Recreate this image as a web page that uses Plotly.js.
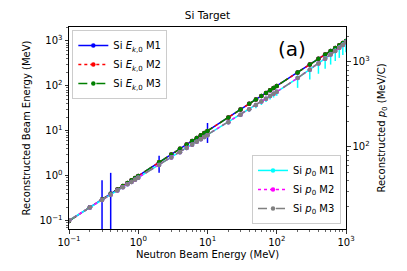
<!DOCTYPE html>
<html>
<head>
<meta charset="utf-8">
<script src="https://cdn.plot.ly/plotly-3.0.1.min.js"></script>
<style>html,body{margin:0;padding:0;background:#fff;}#chart{width:407px;height:271px;}</style>
</head>
<body>
<div id="chart"></div>
<script>
// Neutron beam energies (MeV)
var energy = [0.1,0.2,0.3,0.4,0.5,0.6,0.7,0.8,0.9,1,2,3,4,5,6,7,8,9,10,20,30,40,50,60,70,80,90,100,200,300,400,500,600,700,800,900,1000];
// Reconstructed kinetic energy (MeV), left axis
var ekM1 = [0.1,0.2,0.3,0.4,0.5,0.6,0.7,0.8,0.9,1.0,2.0,3.0,4.0,5.0,6.0,7.0,8.0,9.0,10,20,30,40,50,60,70,80,90,100,200,300,400,500,600,700,800,900,1000];
var ekM2 = [0.1,0.2,0.3,0.4,0.5,0.6,0.7,0.8,0.9,1.0,2.0,3.0,4.0,5.0,6.0,7.0,8.0,9.0,10,20,30,40,50,60,70,80,90,100,200,300,400,500,600,700,800,900,1000];
var ekM3 = [0.1,0.2,0.3,0.4,0.5,0.6,0.7,0.8,0.9,1.0,2.0,3.0,4.0,5.0,6.0,7.0,8.0,9.0,10,20,30,40,50,60,70,80,90,100,200,300,400,500,600,700,800,900,1000];
var ekM1ErrUp   = [0,0,0.5,0.77,0,0,0,0,0,0,0.8,0,0,0,0,0,0,0,5,0,0,0,0,0,0,0,0,0,20,30,40,50,60,70,80,90,100];
var ekM1ErrDown = [0,0,0.295,0.395,0,0,0,0,0,0,0.82,0,0,0,0,0,0,0,4.6,0,0,0,0,0,0,0,0,0,20,30,40,50,60,70,80,90,100];
// Reconstructed momentum (MeV/c), right axis
var p0M1 = [13.7,19.4,23.8,27.4,30.7,33.6,36.3,38.8,41.1,43.4,61.3,75.1,86.8,97.1,106.4,114.9,122.9,130.4,137.5,194.9,239.3,277.1,310.6,341.1,369.4,395.9,421.0,444.9,644.9,808.5,954.8,1090.7,1219.6,1343.7,1464.0,1581.5,1696.8];
var p0M2 = [13.7,19.4,23.8,27.4,30.7,33.6,36.3,38.8,41.1,43.4,61.3,75.1,86.8,97.1,106.4,114.9,122.9,130.4,137.5,194.9,239.3,277.1,310.6,341.1,369.4,395.9,421.0,444.9,644.9,808.5,954.8,1090.7,1219.6,1343.7,1464.0,1581.5,1696.8];
var p0M3 = [13.7,19.4,23.8,27.4,30.7,33.6,36.3,38.8,41.1,43.4,61.3,75.1,86.8,97.1,106.4,114.9,122.9,130.4,137.5,194.9,239.3,277.1,310.6,341.1,369.4,395.9,421.0,444.9,644.9,808.5,954.8,1090.7,1219.6,1343.7,1464.0,1581.5,1696.8];
var p0M1ErrUp   = [0,0,0,0,0,0,0,0,0,0,0,0,0,0,0,0,0,0,0,5,6,8,9,10,11,12,13,14,50,60,70,80,90,100,110,120,130];
var p0M1ErrDown = [0,0,0,0,0,0,0,0,0,0,0,0,0,0,0,0,0,0,0,10,15,20,25,30,33,36,40,45,150,190,230,260,290,320,350,380,400];

var xTickVals = [0.1,1,10,100,1000];
var xTickText = ['10<sup>\u22121</sup>','10<sup>0</sup>','10<sup>1</sup>','10<sup>2</sup>','10<sup>3</sup>'];
var yTickVals = [0.1,1,10,100,1000];
var yTickText = ['10<sup>\u22121</sup>','10<sup>0</sup>','10<sup>1</sup>','10<sup>2</sup>','10<sup>3</sup>'];
var y2TickVals = [100,1000];
var y2TickText = ['10<sup>2</sup>','10<sup>3</sup>'];

function minorTicks(lo, hi){
  var out=[];
  for(var d=lo; d<=hi; d++){ for(var k=2;k<=9;k++){ out.push(k*Math.pow(10,d)); } }
  return out;
}

var FONT = 'DejaVu Sans, sans-serif';

function tr(x,y,name,color,dash,yaxis,legend,errUp,errDown){
  var t = {x:x, y:y, name:name, type:'scatter', mode:'lines+markers',
    line:{color:color, width:1.5, dash:dash},
    marker:{color:color, size:4.5, symbol:'circle'},
    yaxis:yaxis, legend:legend};
  if(errUp){
    t.error_y = {type:'data', symmetric:false, array:errUp, arrayminus:errDown,
      color:color, thickness:1.5, width:0};
  }
  return t;
}

var data = [
  tr(energy, ekM1, 'Si <i>E</i><sub><i>k</i>,0</sub> M1', '#0000ff', 'solid', 'y', 'legend', ekM1ErrUp, ekM1ErrDown),
  tr(energy, ekM2, 'Si <i>E</i><sub><i>k</i>,0</sub> M2', '#ff0000', 'dot', 'y', 'legend'),
  tr(energy, ekM3, 'Si <i>E</i><sub><i>k</i>,0</sub> M3', '#008000', 'dash', 'y', 'legend'),
  tr(energy, p0M1, 'Si <i>p</i><sub>0</sub> M1', '#00ffff', 'solid', 'y2', 'legend2', p0M1ErrUp, p0M1ErrDown),
  tr(energy, p0M2, 'Si <i>p</i><sub>0</sub> M2', '#ff00ff', 'dot', 'y2', 'legend2'),
  tr(energy, p0M3, 'Si <i>p</i><sub>0</sub> M3', '#808080', 'dash', 'y2', 'legend2')
];

var axisCommon = {
  type:'log', showgrid:false, zeroline:false, showline:true, linecolor:'#000', linewidth:1,
  ticks:'outside', ticklen:3.5, tickwidth:0.8, tickcolor:'#000',
  tickfont:{family:FONT, size:10, color:'#000'}, tickmode:'array'
};

var layout = {
  width:407, height:271,
  margin:{l:69, r:61, t:27, b:42, pad:0},
  paper_bgcolor:'#fff', plot_bgcolor:'#fff',
  font:{family:FONT, size:10, color:'#000'},
  title:{text:'Si Target', font:{family:FONT, size:10.5, color:'#000'}, x:0.5, xref:'paper', y:0.945, yref:'container', yanchor:'middle'},
  xaxis: Object.assign({}, axisCommon, {
    range:[-1,3], mirror:true, tickvals:xTickVals, ticktext:xTickText,
    minor:{tickmode:'array', tickvals:minorTicks(-1,2), ticks:'outside', ticklen:2, tickwidth:0.6, tickcolor:'#000'},
    title:{text:'Neutron Beam Energy (MeV)', font:{family:FONT, size:10, color:'#000'}, standoff:4}
  }),
  yaxis: Object.assign({}, axisCommon, {
    range:[-1.18,3.31], tickvals:yTickVals, ticktext:yTickText,
    minor:{tickmode:'array', tickvals:minorTicks(-2,3), ticks:'outside', ticklen:2, tickwidth:0.6, tickcolor:'#000'},
    title:{text:'Reconstructed Beam Energy (MeV)', font:{family:FONT, size:10, color:'#000'}, standoff:6}
  }),
  yaxis2: Object.assign({}, axisCommon, {
    overlaying:'y', side:'right', range:[1.035,3.41], tickvals:y2TickVals, ticktext:y2TickText,
    minor:{tickmode:'array', tickvals:minorTicks(1,3), ticks:'outside', ticklen:2, tickwidth:0.6, tickcolor:'#000'},
    title:{text:'Reconstructed <i>p</i><sub>0</sub> (MeV/C)', font:{family:FONT, size:10, color:'#000'}, standoff:9}
  }),
  legend:{x:0.012, y:0.985, xanchor:'left', yanchor:'top', bgcolor:'rgba(255,255,255,0.8)', bordercolor:'#cccccc', borderwidth:1,
    font:{family:FONT, size:10, color:'#000'}, itemwidth:30, tracegroupgap:0},
  legend2:{x:0.982, y:0.025, xanchor:'right', yanchor:'bottom', bgcolor:'rgba(255,255,255,0.8)', bordercolor:'#cccccc', borderwidth:1,
    font:{family:FONT, size:10, color:'#000'}, itemwidth:30, tracegroupgap:0},
  annotations:[{text:'(a)', xref:'paper', yref:'paper', x:0.805, y:0.89, showarrow:false, xanchor:'center', yanchor:'middle',
    font:{family:FONT, size:20, color:'#000'}}],
  showlegend:true
};

Plotly.newPlot('chart', data, layout, {displayModeBar:false, staticPlot:true});
</script>
</body>
</html>
